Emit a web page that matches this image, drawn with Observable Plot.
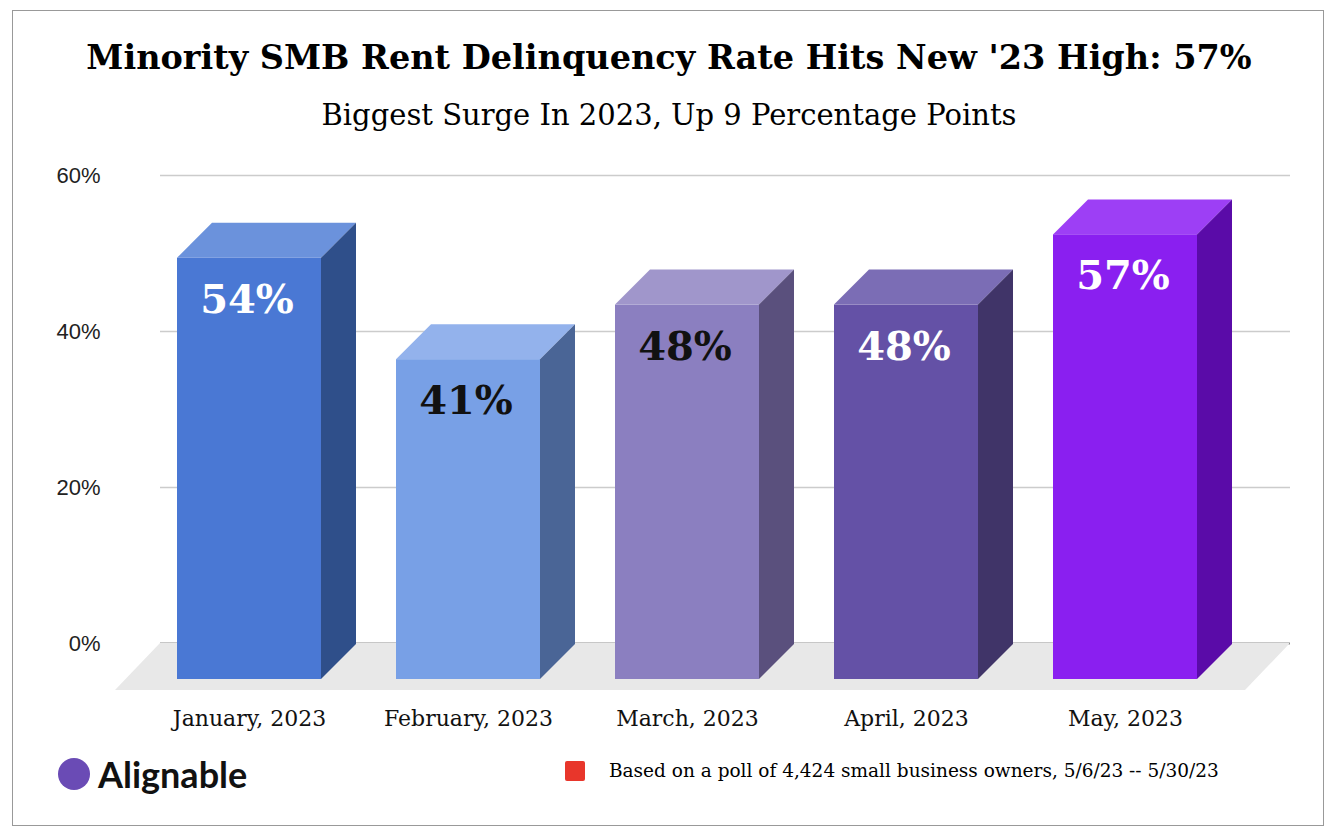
<!DOCTYPE html>
<html><head><meta charset="utf-8">
<script src="https://cdn.jsdelivr.net/npm/d3@7"></script>
<script src="https://cdn.jsdelivr.net/npm/@observablehq/plot@0.6"></script>
<style>
body{margin:0;background:#fff;}
#wrap{position:relative;width:1338px;height:832px;overflow:hidden;}
#frame{position:absolute;left:12px;top:10px;width:1312px;height:816px;border:1px solid #999;box-sizing:border-box;}
.t{position:absolute;left:0;width:1338px;text-align:center;font-family:"DejaVu Serif",serif;white-space:nowrap;}
#title{top:38px;font-size:33.5px;font-weight:bold;}
#sub{top:98px;font-size:29px;}
#logo{position:absolute;left:58px;top:752px;font-family:"Lato","DejaVu Sans",sans-serif;font-weight:bold;font-size:36px;color:#111;display:flex;align-items:center;gap:8px;}
#logo .ic{width:32px;height:32px;border-radius:50%;background:#6a4bb5;}
#leg{position:absolute;left:565px;top:760px;font-family:"DejaVu Serif",serif;font-size:18.5px;display:flex;align-items:center;gap:24px;white-space:nowrap;}
#leg .sw{width:20px;height:20px;background:#e8362b;border-radius:2px;}
svg{position:absolute;left:0;top:0;}
</style></head><body>
<div id="wrap"><div id="chart"></div><div id="frame"></div>
<div class="t" id="title">Minority SMB Rent Delinquency Rate Hits New '23 High: 57%</div>
<div class="t" id="sub">Biggest Surge In 2023, Up 9 Percentage Points</div>
<div id="logo"><div class="ic"></div>Alignable</div>
<div id="leg"><div class="sw"></div>Based on a poll of 4,424 small business owners, 5/6/23 -- 5/30/23</div>
</div>
<script>
const months = ["January, 2023","February, 2023","March, 2023","April, 2023","May, 2023"];
const values = [54,41,48,48,57];
const labels = ["54%","41%","48%","48%","57%"];
const frontColors = ["#4a78d4","#78a0e6","#8b7fc0","#6451a6","#8a1ff0"];
const topColors = ["#6b92dc","#93b2ec","#a096cb","#7b6db5","#9d3ff5"];
const sideColors = ["#2f4f8a","#4a6596","#5a507d","#403468","#5a0ba8"];
const labelColors = ["#fff","#111","#111","#fff","#fff"];
const yTicks = [0,20,40,60];
const data = months.map((m,i)=>({m,v:values[i],l:labels[i],f:frontColors[i],t:topColors[i],s:sideColors[i],lc:labelColors[i]}));
const W=144, D=35, DY=36;

function bars3d(index, scales, values, dims){
  const g = d3.create("svg:g");
  const y0 = scales.y(0);
  g.append("path").attr("d",`M160,${y0}L1290,${y0}L1245,${y0+47}L115,${y0+47}Z`).attr("fill","#e8e8e8");
  for (const d of data){
    const cx = scales.x(d.m), l = cx - W/2, r = cx + W/2;
    const top = scales.y(d.v) + DY, bot = y0 + DY;
    g.append("path").attr("d",`M${l},${top}L${l+D},${top-D}L${r+D},${top-D}L${r},${top}Z`).attr("fill",d.t);
    g.append("path").attr("d",`M${r},${top}L${r+D},${top-D}L${r+D},${bot-D}L${r},${bot}Z`).attr("fill",d.s);
    g.append("rect").attr("x",l).attr("y",top).attr("width",W).attr("height",bot-top).attr("fill",d.f);
    g.append("text").attr("x",cx-2).attr("y",top+55).attr("text-anchor","middle")
      .attr("font-family","DejaVu Serif, serif").attr("font-weight","bold").attr("font-size",40)
      .attr("fill",d.lc).text(d.l);
  }
  return g.node();
}

const chart = Plot.plot({
  width:1338, height:832,
  marginTop:175, marginBottom:189, marginLeft:160, marginRight:48,
  x:{type:"point", domain:months, range:[247,1126], padding:0, axis:null},
  y:{domain:[0,60], ticks:yTicks, tickFormat:d=>d+"%", label:null},
  marks:[
    Plot.ruleY(yTicks.filter(t=>t>0),{stroke:"#ccc",strokeWidth:1.5}),
    Plot.axisY({ticks:yTicks, tickFormat:d=>d+"%", tickSize:0, tickPadding:60, fontSize:22, fontFamily:"Liberation Sans, Arial, sans-serif", fill:"#222"}),
    Plot.ruleY([0],{stroke:"#222",strokeWidth:1.5}),
    bars3d,
    Plot.text(data,{x:"m",y:()=>0,text:"m",dy:75,fontSize:22,fontFamily:"DejaVu Serif, serif",fill:"#111"})
  ]
});
document.getElementById("chart").append(chart);
</script></body></html>
